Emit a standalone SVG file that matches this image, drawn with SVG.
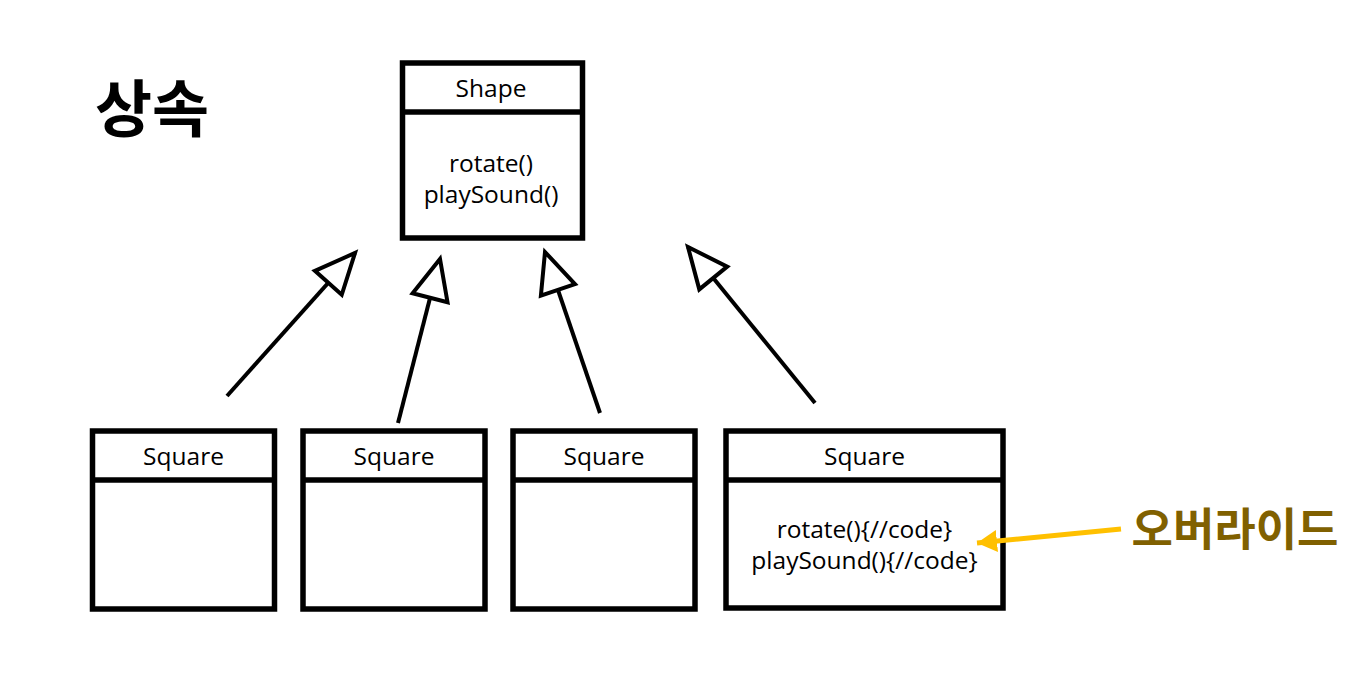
<svg xmlns="http://www.w3.org/2000/svg" width="1350" height="676" viewBox="0 0 1350 676">
  <style>
    .box { fill: #ffffff; stroke: #000000; stroke-width: 5.5; }
    .div { stroke: #000000; stroke-width: 5.5; }
    .lbl { font-family: "Open Sans", "Noto Sans", "Noto Sans CJK KR", sans-serif; font-size: 24.5px; fill: #000000; text-anchor: middle; }
    .edge { stroke: #000000; stroke-width: 4; fill: none; marker-end: url(#hollow); }
    .title { font-family: "Noto Sans CJK KR", sans-serif; font-weight: bold; }
  </style>
  <defs>
    <marker id="hollow" markerUnits="userSpaceOnUse" markerWidth="50" markerHeight="46" viewBox="-4 -4 50 46" refX="40" refY="18" orient="auto">
      <path d="M0,0 L40,18 L0,36 Z" fill="#ffffff" stroke="#000000" stroke-width="4" stroke-linejoin="miter"/>
    </marker>
    <marker id="orangeHead" markerUnits="userSpaceOnUse" markerWidth="24" markerHeight="26" viewBox="0 0 24 26" refX="20" refY="11" orient="auto">
      <path d="M0,0 L20,11 L0,22 Z" fill="#FFC000"/>
    </marker>
  </defs>
  <rect width="1350" height="676" fill="#ffffff"/>

  <text class="title" x="95" y="132" font-size="62" fill="#000000">상속</text>

  <g id="shape">
    <rect class="box" x="402.5" y="63" width="180" height="175"/>
    <line class="div" x1="402.5" y1="112" x2="582.5" y2="112"/>
    <text class="lbl" x="491" y="97">Shape</text>
    <text class="lbl" x="491" y="172">rotate()</text>
    <text class="lbl" x="491" y="203">playSound()</text>
  </g>

  <g id="square1">
    <rect class="box" x="92.5" y="431" width="182" height="178"/>
    <line class="div" x1="92.5" y1="480" x2="274.5" y2="480"/>
    <text class="lbl" x="183.5" y="465">Square</text>
  </g>

  <g id="square2">
    <rect class="box" x="303" y="431" width="182" height="178"/>
    <line class="div" x1="303" y1="480" x2="485" y2="480"/>
    <text class="lbl" x="394" y="465">Square</text>
  </g>

  <g id="square3">
    <rect class="box" x="513" y="431" width="182" height="178"/>
    <line class="div" x1="513" y1="480" x2="695" y2="480"/>
    <text class="lbl" x="604" y="465">Square</text>
  </g>

  <g id="square4">
    <rect class="box" x="726" y="431" width="277" height="177"/>
    <line class="div" x1="726" y1="480" x2="1003" y2="480"/>
    <text class="lbl" x="864.5" y="465">Square</text>
    <text class="lbl" x="864.5" y="538">rotate(){//code}</text>
    <text class="lbl" x="864.5" y="569">playSound(){//code}</text>
  </g>

  <g id="override">
    <text class="title" x="1235" y="546" font-size="45" fill="#806000" text-anchor="middle">오버라이드</text>
  </g>

  <g id="connectors">
    <line class="edge" x1="227" y1="396" x2="355" y2="253"/>
    <line class="edge" x1="398" y1="423" x2="440" y2="259"/>
    <line class="edge" x1="600" y1="413" x2="545" y2="252"/>
    <line class="edge" x1="815" y1="403" x2="688" y2="247"/>
    <line x1="1121" y1="529" x2="977" y2="543" stroke="#FFC000" stroke-width="5" marker-end="url(#orangeHead)"/>
  </g>
</svg>
